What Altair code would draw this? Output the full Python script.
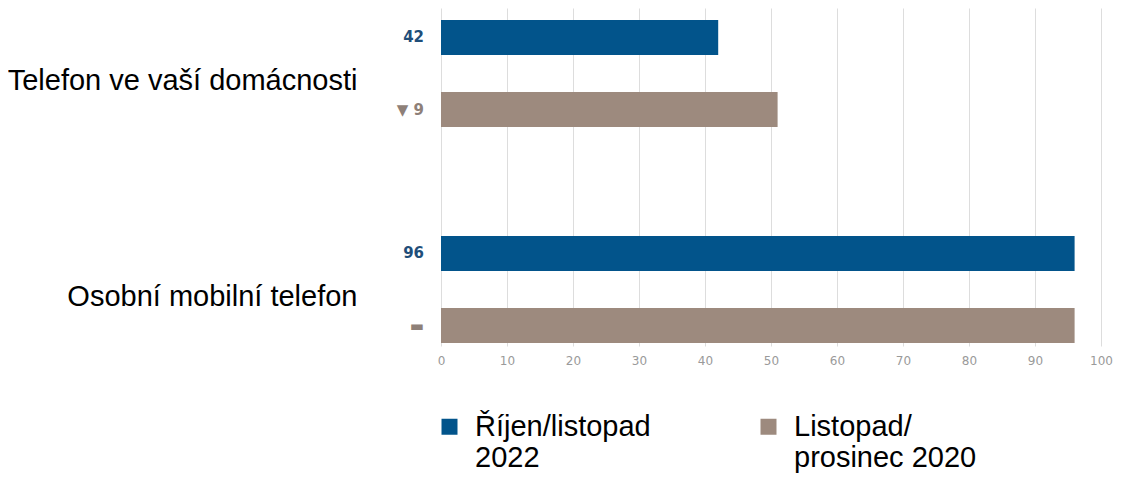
import altair as alt
import pandas as pd

categories = ["Telefon ve vaší domácnosti", "Osobní mobilní telefon"]
series = ["Říjen/listopad 2022", "Listopad/prosinec 2020"]
legend_lines = [["Říjen/listopad", "2022"], ["Listopad/", "prosinec 2020"]]
values_2022 = [42, 96]
values_2020 = [51, 96]
labels_2022 = ["42", "96"]
labels_2020 = ["▼ 9", "▬"]
x_ticks = [0, 10, 20, 30, 40, 50, 60, 70, 80, 90, 100]

colors = ["#02548B", "#9D8A7E"]
label_colors = ["#1F4E79", "#8E8078"]

rows = []
for i, c in enumerate(categories):
    rows.append({"category": c, "series": series[0], "value": values_2022[i], "label": labels_2022[i]})
    rows.append({"category": c, "series": series[1], "value": values_2020[i], "label": labels_2020[i]})
df = pd.DataFrame(rows)

label_expr = " : ".join(
    f"datum.label == '{s}' ? {legend_lines[k]!r}" for k, s in enumerate(series)
) + " : datum.label"

y_enc = alt.Y(
    "category:N",
    sort=categories,
    scale=alt.Scale(paddingInner=0.5046, paddingOuter=0.0347, align=0.8),
    axis=alt.Axis(
        title=None, domain=False, ticks=False, labelFont="Liberation Sans",
        labelFontSize=29, labelColor="#000000", labelPadding=84, labelLimit=600,
        labelOffset=8, labelAlign="right",
    ),
)
yoff_enc = alt.YOffset(
    "series:N", sort=series,
    scale=alt.Scale(paddingInner=0.514, paddingOuter=0),
)

bars = alt.Chart(df).mark_bar().encode(
    x=alt.X(
        "value:Q",
        scale=alt.Scale(domain=[0, 100], nice=False),
        axis=alt.Axis(
            title=None, values=x_ticks, domain=False, ticks=False, grid=True,
            gridColor="#DDDDDD", gridWidth=1, labelFont="DejaVu Sans",
            labelFontSize=12, labelColor="#9A9A9A", labelPadding=9, labelFlush=False,
        ),
    ),
    y=y_enc,
    yOffset=yoff_enc,
    color=alt.Color(
        "series:N", sort=series,
        scale=alt.Scale(domain=series, range=colors),
        legend=alt.Legend(
            title=None, orient="none", legendX=-6, legendY=404, direction="horizontal",
            symbolType="square", symbolSize=256, symbolStrokeWidth=0, symbolOpacity=1,
            labelFont="Liberation Sans", labelFontSize=29, labelColor="#000000",
            labelOffset=11, labelLimit=600, columnPadding=103, padding=0,
            labelExpr=label_expr,
        ),
    ),
)

texts = alt.Chart(df).mark_text(
    align="right", baseline="middle", font="DejaVu Sans", fontSize=15, fontWeight="bold"
).encode(
    x=alt.value(-17),
    y=alt.Y("category:N", sort=categories),
    yOffset=alt.YOffset("series:N", sort=series),
    text="label:N",
    color=alt.condition(
        alt.datum.series == series[0], alt.value(label_colors[0]), alt.value(label_colors[1])
    ),
)

chart = alt.layer(bars, texts).properties(
    width=660, height=338,
    padding={"left": 433, "top": 0, "right": 12, "bottom": 128},
    autosize="none",
).configure_view(stroke=None)

chart.save("out.html", embed_options={"renderer": "svg", "actions": False})
